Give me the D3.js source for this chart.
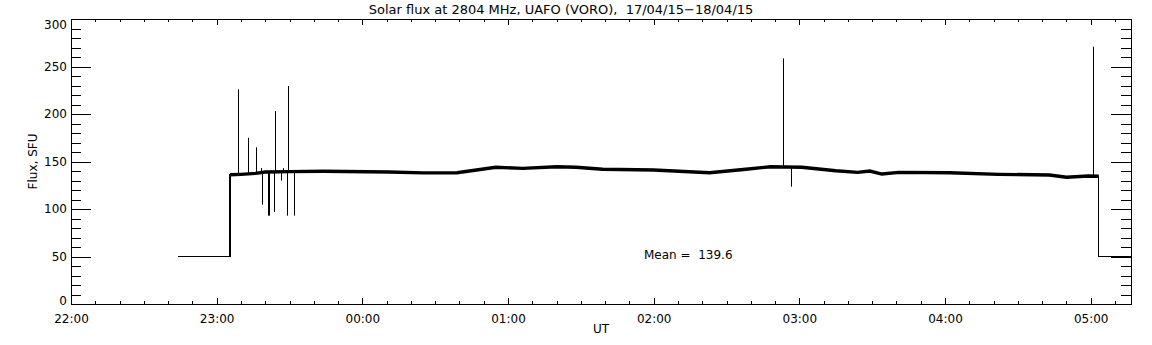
<!DOCTYPE html>
<html>
<head>
<meta charset="utf-8">
<script src="https://cdn.jsdelivr.net/npm/d3@7"></script>
<style>
  html, body { margin: 0; padding: 0; background: #fff; }
  svg { display: block; }
  text { font-family: "DejaVu Sans", sans-serif; fill: #000; }
</style>
</head>
<body>
<div id="chart"></div>
<script>
// smoothed flux level (UT clock time, SFU)
const lineTimes = ["22:44", "23:05:30", "23:05:30", "23:10", "23:16", "23:20", "23:30", "23:44",
  "00:11", "00:25", "00:39", "00:47", "00:55", "01:06", "01:20", "01:28", "01:39", "02:00",
  "02:23", "02:38", "02:48", "03:01", "03:15", "03:24", "03:29", "03:34", "03:41", "04:02",
  "04:22", "04:43", "04:50", "04:59", "05:03:20", "05:03:20", "05:17"];
const lineFlux = [50, 50, 136, 136.5, 137.5, 139, 139.3, 139.7,
  139, 138, 138.2, 141, 143.9, 142.8, 144.5, 143.9, 141.8, 141,
  138.2, 141.8, 144.5, 143.9, 140.3, 138.6, 140, 136.8, 138.6, 138.2,
  136.5, 135.8, 133.4, 134.7, 134.5, 50, 50];

// single-sample spikes (tip value)
const spikeTimes = ["23:08:36", "23:13:00", "23:16:00", "23:18:06", "23:18:48", "23:21:12", "23:21:36",
  "23:23:27", "23:24:06", "23:26:36", "23:27:09", "23:29:02", "23:29:27", "23:31:55",
  "02:53:14", "02:56:30", "05:00:50"];
const spikeFlux = [226, 175, 165, 143, 104.5, 93, 93,
  97, 203, 130, 143, 93, 229.5, 93,
  258.6, 123.5, 270.8];

const hourTicks = ["22:00", "23:00", "00:00", "01:00", "02:00", "03:00", "04:00", "05:00"];
const fluxTicks = [0, 50, 100, 150, 200, 250, 300];
const meanLabel = ["Mean =  139.6"];

const width = 1152, height = 345;
const plotLeft = 71, plotRight = 1131, plotTop = 19, plotBottom = 304;

// times before noon belong to the next day
function toDate(s) {
    const [h, m, sec] = s.split(':').map(Number);
    const day = h < 12 ? 18 : 17;
    return new Date(Date.UTC(2015, 3, day, h, m, sec || 0));
}

const x = d3.scaleUtc()
    .domain([toDate("22:00"), toDate("05:16:36")])
    .range([plotLeft, plotRight]);

const y = d3.scaleLinear()
    .domain([0, 300])
    .range([plotBottom, plotTop]);

const svg = d3.select('#chart').append('svg')
    .attr('width', width)
    .attr('height', height)
    .attr('viewBox', `0 0 ${width} ${height}`);

svg.append('defs').append('clipPath')
    .attr('id', 'plot-clip')
    .append('rect')
    .attr('x', plotLeft).attr('y', plotTop)
    .attr('width', plotRight - plotLeft).attr('height', plotBottom - plotTop);

// ---- axes (IDL style: box with inward ticks on all sides) ----
const hourDates = hourTicks.map(toDate);
const minorX = d3.utcMinute.every(10).range(x.domain()[0], x.domain()[1]);
const minorY = d3.range(0, 301, 10);

const tickFmt = d3.utcFormat('%H:%M');

const xBottom = d3.axisBottom(x).tickValues(hourDates).tickFormat(tickFmt).tickSizeInner(-6).tickSizeOuter(0).tickPadding(10);
const xBottomMinor = d3.axisBottom(x).tickValues(minorX).tickFormat('').tickSizeInner(-3).tickSizeOuter(0);
const xTop = d3.axisTop(x).tickValues(hourDates).tickFormat('').tickSizeInner(-6).tickSizeOuter(0);
const xTopMinor = d3.axisTop(x).tickValues(minorX).tickFormat('').tickSizeInner(-3).tickSizeOuter(0);

const yLeft = d3.axisLeft(y).tickValues(fluxTicks).tickSizeInner(-20).tickSizeOuter(0).tickPadding(4);
const yLeftMinor = d3.axisLeft(y).tickValues(minorY).tickFormat('').tickSizeInner(-10).tickSizeOuter(0);
const yRight = d3.axisRight(y).tickValues(fluxTicks).tickFormat('').tickSizeInner(-20).tickSizeOuter(0);
const yRightMinor = d3.axisRight(y).tickValues(minorY).tickFormat('').tickSizeInner(-10).tickSizeOuter(0);

function place(axis, tx, ty) {
    const g = svg.append('g')
        .attr('transform', `translate(${tx},${ty})`)
        .call(axis);
    g.selectAll('line, path')
        .attr('stroke', '#000')
        .attr('stroke-width', 1)
        .attr('shape-rendering', 'crispEdges');
    g.selectAll('text')
        .style('font-size', '12px')
        .style('font-family', '"DejaVu Sans", sans-serif')
        .attr('fill', '#000');
    return g;
}

place(xBottomMinor, 0, plotBottom);
place(xBottom, 0, plotBottom);
place(xTopMinor, 0, plotTop);
place(xTop, 0, plotTop);
place(yLeftMinor, plotLeft, 0);
const yl = place(yLeft, plotLeft, 0);
place(yRightMinor, plotRight, 0);
place(yRight, plotRight, 0);

// end labels are nudged inside the box like the original
yl.selectAll('.tick text')
    .attr('dy', d => d === 300 ? '0.75em' : d === 0 ? '0' : '0.32em');

// ---- data ----
const linePts = lineTimes.map((t, i) => [toDate(t), lineFlux[i]]);
const lineGen = d3.line().x(d => x(d[0])).y(d => y(d[1]));

const plot = svg.append('g').attr('clip-path', 'url(#plot-clip)');

// whole trace thin (50 SFU fill + step edges), then the noisy plateau thick
plot.append('path')
    .datum(linePts)
    .attr('fill', 'none')
    .attr('stroke', '#000')
    .attr('stroke-width', 1.2)
    .attr('shape-rendering', 'crispEdges')
    .attr('d', lineGen);

plot.append('path')
    .datum(linePts.slice(2, 33))
    .attr('fill', 'none')
    .attr('stroke', '#000')
    .attr('stroke-width', 3.4)
    .attr('d', lineGen);

// spikes start from the local level of the trace
const bisect = d3.bisector(d => d[0]).right;
function levelAt(date) {
    const i = Math.min(Math.max(bisect(linePts, date), 3), linePts.length - 3);
    const a = linePts[i - 1], b = linePts[i];
    const f = (date - a[0]) / (b[0] - a[0] || 1);
    return a[1] + f * (b[1] - a[1]);
}

plot.selectAll('line.spike')
    .data(spikeTimes.map((t, i) => ({ date: toDate(t), flux: spikeFlux[i] })))
    .join('line')
    .attr('class', 'spike')
    .attr('x1', d => Math.round(x(d.date)) + 0.5)
    .attr('x2', d => Math.round(x(d.date)) + 0.5)
    .attr('y1', d => y(levelAt(d.date)))
    .attr('y2', d => y(d.flux))
    .attr('stroke', '#000')
    .attr('stroke-width', 1);

// ---- labels ----
svg.append('text')
    .attr('x', 561)
    .attr('y', 14)
    .attr('text-anchor', 'middle')
    .style('font-size', '13px')
    .style('white-space', 'pre')
    .text('Solar flux at 2804 MHz, UAFO (VORO),  17/04/15\u221218/04/15');

svg.append('text')
    .attr('x', (plotLeft + plotRight) / 2)
    .attr('y', 333)
    .attr('text-anchor', 'middle')
    .style('font-size', '12px')
    .text('UT');

svg.append('text')
    .attr('transform', `translate(37,${(plotTop + plotBottom) / 2}) rotate(-90)`)
    .attr('text-anchor', 'middle')
    .style('font-size', '12px')
    .text('Flux, SFU');

svg.append('text')
    .attr('x', x(toDate("01:56")))
    .attr('y', y(47))
    .style('font-size', '12px')
    .style('white-space', 'pre')
    .text(meanLabel[0]);
</script>
</body>
</html>
